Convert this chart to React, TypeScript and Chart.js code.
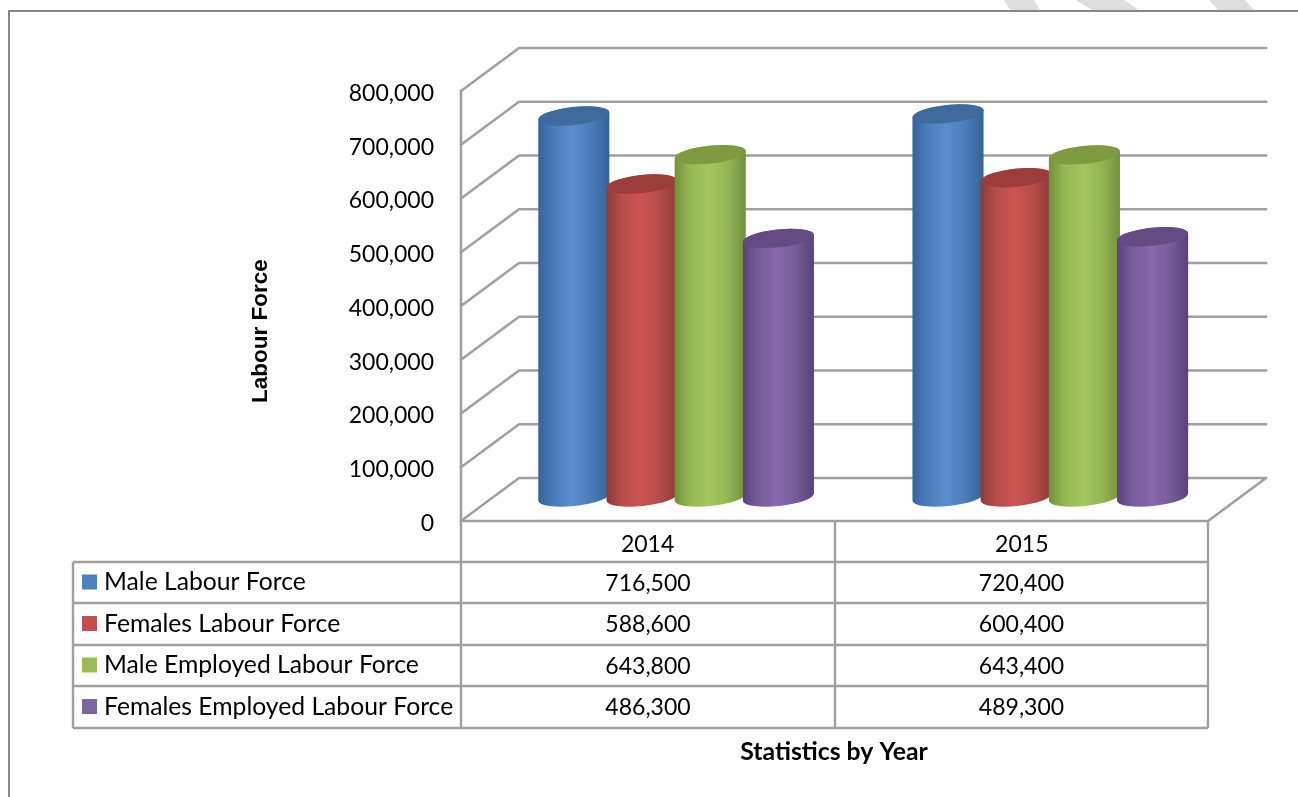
import React, { useEffect, useRef } from "react";
import { Chart, registerables } from "chart.js";

Chart.register(...registerables);

const years = ["2014", "2015"];
const seriesNames = [
  "Male Labour Force",
  "Females Labour Force",
  "Male Employed Labour Force",
  "Females Employed Labour Force",
];
const maleLabourForce = [716500, 720400];
const femalesLabourForce = [588600, 600400];
const maleEmployedLabourForce = [643800, 643400];
const femalesEmployedLabourForce = [486300, 489300];
const seriesValues = [
  maleLabourForce,
  femalesLabourForce,
  maleEmployedLabourForce,
  femalesEmployedLabourForce,
];

const swatchColors = ["#4f81bd", "#c0504d", "#9bbb59", "#8064a2"];
const edgeColors = ["#35639a", "#8c3a38", "#71903a", "#59417a"];
const shoulderColors = ["#4a7cb8", "#b54c49", "#93b553", "#765c98"];
const brightColors = ["#5b8dcd", "#cb5552", "#a6c75f", "#8968ad"];
const capColors = ["#3e6a9e", "#9c3d3b", "#7f9a41", "#654b83"];

const axisTitleY = "Labour Force";
const axisTitleX = "Statistics by Year";

const BODY_FONT = "Lato";
const LINE = "#a0a0a0";
const DEPTH_X = 58;
const DEPTH_Y = 43;

const fmt = (v: number) => v.toLocaleString("en-US");

// Receding walls and floor of the 3-D box, positioned from the value axis.
function drawWalls(chart: any) {
  const { ctx } = chart;
  const y = chart.scales.y;
  const front = 461;
  const frontRight = 1208;
  ctx.save();
  ctx.strokeStyle = LINE;
  ctx.lineWidth = 2.6;
  ctx.lineCap = "square";
  const top = y.getPixelForValue(800000);
  const bottom = y.getPixelForValue(0);
  ctx.beginPath();
  ctx.moveTo(front, top);
  ctx.lineTo(front, bottom);
  ctx.moveTo(front, bottom);
  ctx.lineTo(frontRight, bottom);
  ctx.lineTo(frontRight + DEPTH_X, bottom - DEPTH_Y);
  for (const t of y.ticks) {
    const py = y.getPixelForValue(t.value);
    ctx.moveTo(front, py);
    ctx.lineTo(front + DEPTH_X, py - DEPTH_Y);
    ctx.lineTo(frontRight + DEPTH_X, py - DEPTH_Y);
  }
  ctx.stroke();
  ctx.restore();
}

// Each bar element is painted as a shaded cylinder with a tilted elliptical cap.
function drawCylinders(chart: any) {
  const { ctx } = chart;
  const tilt = (-6 * Math.PI) / 180;
  const ry = 9;
  chart.data.datasets.forEach((_: any, ds: number) => {
    chart.getDatasetMeta(ds).data.forEach((bar: any) => {
      const { x, y, base, width } = bar.getProps(["x", "y", "base", "width"], true);
      const rx = width / 2;
      const g = ctx.createLinearGradient(x - rx, 0, x + rx, 0);
      g.addColorStop(0, edgeColors[ds]);
      g.addColorStop(0.2, shoulderColors[ds]);
      g.addColorStop(0.48, brightColors[ds]);
      g.addColorStop(0.75, shoulderColors[ds]);
      g.addColorStop(1, edgeColors[ds]);
      ctx.save();
      ctx.fillStyle = g;
      ctx.beginPath();
      ctx.ellipse(x, base, rx, ry, tilt, Math.PI, 0, true);
      ctx.ellipse(x, y, rx, ry, tilt, 0, Math.PI, true);
      ctx.closePath();
      ctx.fill();
      ctx.fillStyle = capColors[ds];
      ctx.beginPath();
      ctx.ellipse(x, y, rx, ry, tilt, 0, Math.PI * 2);
      ctx.fill();
      ctx.restore();
    });
  });
}

// Data table under the plot, with legend keys in its first column.
function drawTable(chart: any) {
  const { ctx } = chart;
  const left = 73;
  const col0 = 461;
  const col1 = 835;
  const col2 = 1208;
  const rows = [562, 603, 645, 686, 728];
  ctx.save();
  ctx.strokeStyle = LINE;
  ctx.lineWidth = 2.4;
  ctx.beginPath();
  rows.forEach((r) => {
    ctx.moveTo(left, r);
    ctx.lineTo(col2, r);
  });
  [col0, col1, col2].forEach((c) => {
    ctx.moveTo(c, chart.scales.y.getPixelForValue(0));
    ctx.lineTo(c, rows[4]);
  });
  ctx.moveTo(left, rows[0]);
  ctx.lineTo(left, rows[4]);
  ctx.stroke();

  ctx.textBaseline = "middle";
  seriesNames.forEach((name, i) => {
    const cy = (rows[i] + rows[i + 1]) / 2;
    ctx.fillStyle = swatchColors[i];
    ctx.fillRect(82, cy - 8, 15, 15);
    ctx.fillStyle = "#000";
    ctx.textAlign = "left";
    ctx.font = `24.7px ${BODY_FONT}`;
    ctx.fillText(name, 104, cy);
    ctx.textAlign = "center";
    ctx.font = `23px ${BODY_FONT}`;
    ctx.fillText(fmt(seriesValues[i][0]), (col0 + col1) / 2, cy + 1);
    ctx.fillText(fmt(seriesValues[i][1]), (col1 + col2) / 2, cy + 1);
  });

  ctx.font = `bold 24.8px ${BODY_FONT}`;
  ctx.textAlign = "center";
  ctx.fillStyle = "#000";
  ctx.fillText(axisTitleX, 834, 752);

  ctx.translate(261, 331);
  ctx.rotate(-Math.PI / 2);
  ctx.font = 'bold 22.5px "Liberation Sans"';
  ctx.fillText(axisTitleY, 0, 0);
  ctx.restore();
}

// Page frame and the pale diagonal bands crossing the top edge.
function drawFrame(chart: any) {
  const { ctx } = chart;
  ctx.save();
  ctx.fillStyle = "#dedede";
  const bands = [
    [1004, 1034, 1010, 1040],
    [1076, 1124, 1092, 1139],
    [1209, 1245, 1218, 1254],
  ];
  bands.forEach(([a, b, c, d]) => {
    ctx.beginPath();
    ctx.moveTo(a, 0);
    ctx.lineTo(b, 0);
    ctx.lineTo(d, 10);
    ctx.lineTo(c, 10);
    ctx.closePath();
    ctx.fill();
  });
  ctx.strokeStyle = "#888";
  ctx.lineWidth = 2;
  ctx.beginPath();
  ctx.moveTo(1298, 11);
  ctx.lineTo(9, 11);
  ctx.lineTo(9, 797);
  ctx.stroke();
  ctx.restore();
}

const cylinderPlugin = {
  id: "cylinderChart",
  beforeDraw: drawFrame,
  beforeDatasetsDraw(chart: any) {
    drawWalls(chart);
    drawCylinders(chart);
    return false;
  },
  afterDraw: drawTable,
};

export default function App() {
  const ref = useRef<HTMLCanvasElement>(null);
  useEffect(() => {
    const chart = new Chart(ref.current as HTMLCanvasElement, {
      type: "bar",
      data: {
        labels: years,
        datasets: seriesNames.map((name, i) => ({
          label: name,
          data: seriesValues[i],
          backgroundColor: swatchColors[i],
          yAxisID: "yBars",
          categoryPercentage: 0.729,
          barPercentage: 1.048,
        })),
      },
      options: {
        animation: false,
        responsive: false,
        devicePixelRatio: 1,
        layout: { padding: { left: 0, top: 91, right: 60.6, bottom: 240 } },
        plugins: { legend: { display: false }, tooltip: { enabled: false } },
        scales: {
          x: {
            grid: { display: false, drawTicks: false },
            border: { display: false },
            afterFit(scale: any) {
              scale.height = 36;
            },
            ticks: {
              labelOffset: -28.5,
              padding: 10,
              maxRotation: 0,
              autoSkip: false,
              color: "#000",
              font: { family: BODY_FONT, size: 23 },
            },
          },
          y: {
            min: 0,
            max: 800000,
            position: "left",
            grid: { display: false, drawTicks: false },
            border: { display: false },
            afterFit(scale: any) {
              scale.width = 489;
            },
            ticks: {
              stepSize: 100000,
              padding: 55,
              labelOffset: 2.5,
              color: "#000",
              font: { family: BODY_FONT, size: 23 },
              callback: (v: any) => fmt(Number(v)),
            },
          },
          // The bars stand mid-way along the depth of the box, so they use a
          // separate hidden scale with the zero line set back from the front edge.
          yBars: {
            display: false,
            position: "left",
            min: -45134,
            max: 763507,
          },
        },
      },
      plugins: [cylinderPlugin],
    } as any);
    return () => chart.destroy();
  }, []);
  return (
    <canvas
      ref={ref}
      width={1298}
      height={797}
      style={{ position: "fixed", left: 0, top: 0, display: "block" }}
    />
  );
}
